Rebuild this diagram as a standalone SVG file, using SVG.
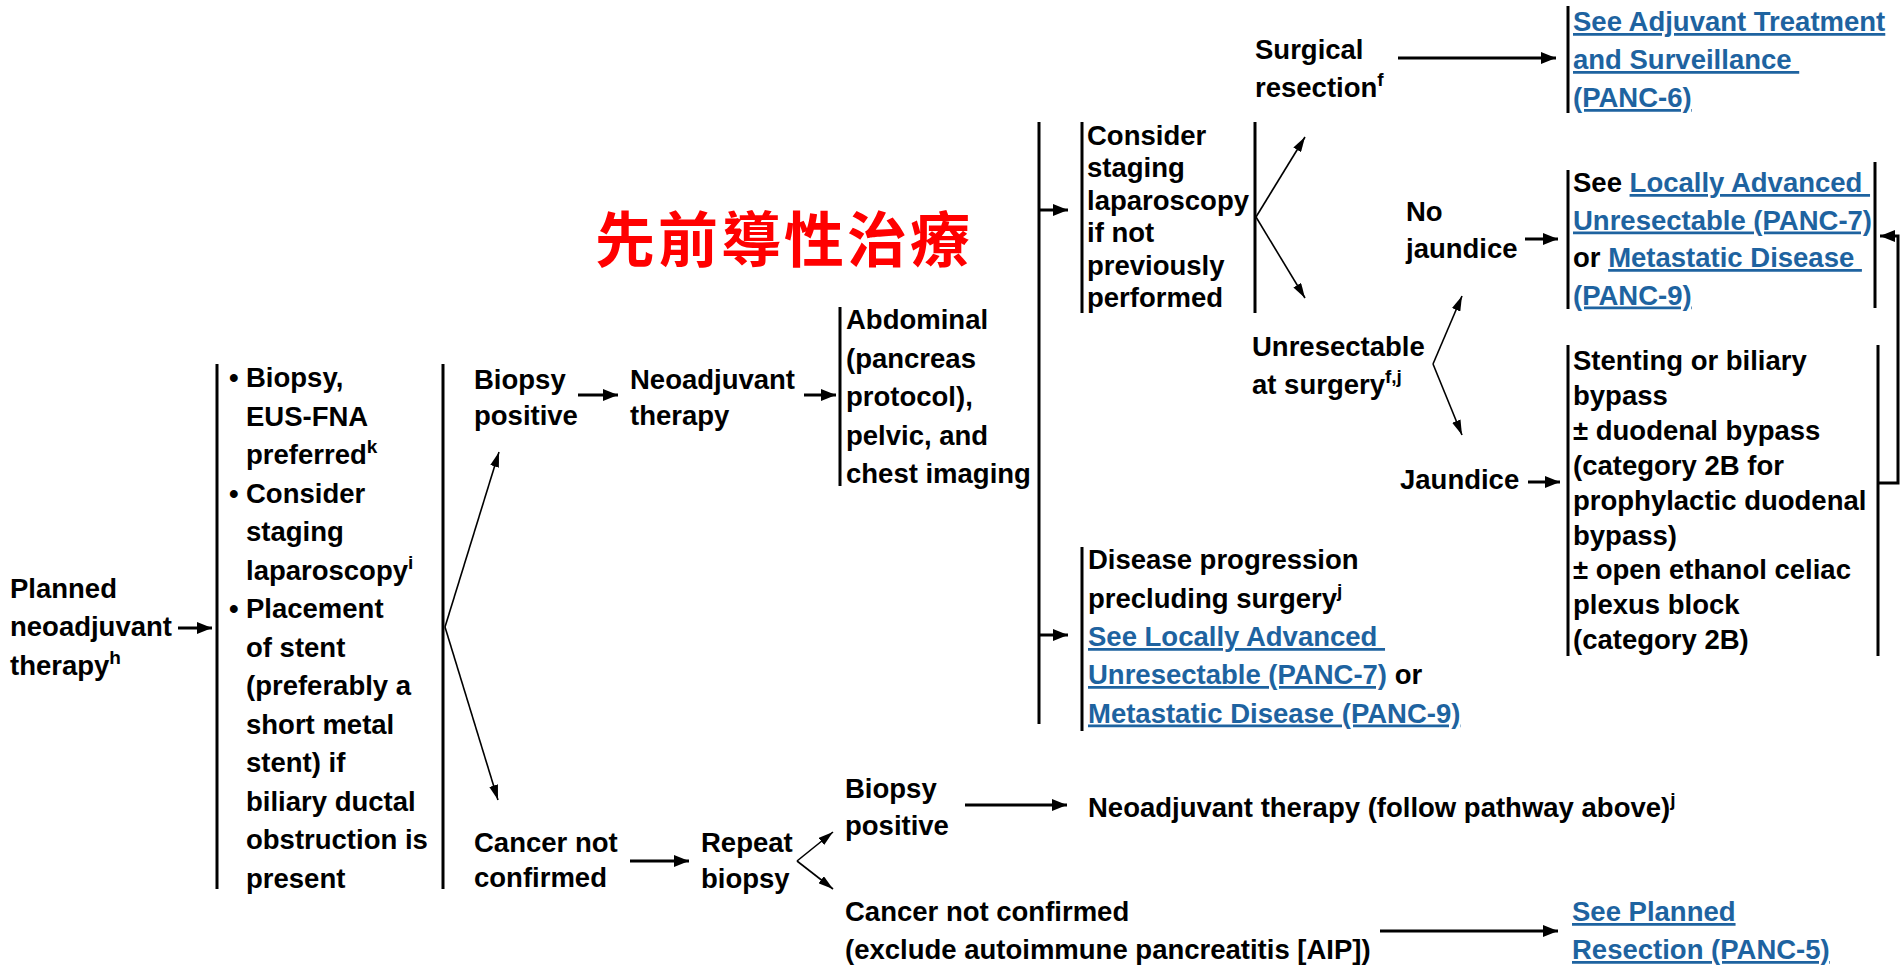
<svg xmlns="http://www.w3.org/2000/svg" width="1901" height="967" viewBox="0 0 1901 967">
  <style>
    .t { font-family: "Liberation Sans", Arial, "Noto Sans CJK TC", sans-serif; font-size: 27.5px; font-weight: bold; fill: #000; }
    .sup { font-size: 19px; }
    .lnk { fill: #1E63A0; text-decoration: underline; }
    .bar { stroke: #000; stroke-width: 3; fill: none; }
    .ln { stroke: #000; stroke-width: 3; fill: none; marker-end: url(#ah); }
    .thin { stroke: #000; stroke-width: 1.6; fill: none; marker-end: url(#ahs); }
    .title { font-family: "Noto Sans CJK TC", "Noto Sans CJK SC", sans-serif; font-size: 60px; font-weight: bold; fill: #FF0000; letter-spacing: 3px; }
  </style>
  <defs>
    <marker id="ah" markerUnits="userSpaceOnUse" markerWidth="15" markerHeight="12" refX="15" refY="6" orient="auto" viewBox="0 0 15 12">
      <path d="M0,0 L15,6 L0,12 z" fill="#000"/>
    </marker>
    <marker id="ahs" markerUnits="userSpaceOnUse" markerWidth="15" markerHeight="9" refX="15" refY="4.5" orient="auto" viewBox="0 0 15 9">
      <path d="M0,0 L15,4.5 L0,9 z" fill="#000"/>
    </marker>
  </defs>

  <rect width="1901" height="967" fill="#fff"/>

  <!-- heading -->
  <text id="heading" class="title" x="595" y="262">先前導性治療</text>

  <!-- connectors -->
  <g id="connectors">
    <line class="ln" x1="178" y1="628" x2="212" y2="628"/>
    <line class="thin" x1="445" y1="627" x2="499" y2="452"/>
    <line class="thin" x1="445" y1="627" x2="498" y2="800"/>
    <line class="ln" x1="578" y1="395" x2="618" y2="395"/>
    <line class="ln" x1="804" y1="395" x2="836" y2="395"/>
    <!-- imaging trunk -->
    <line class="bar" x1="1039" y1="122" x2="1039" y2="724"/>
    <line class="ln" x1="1039" y1="210" x2="1068" y2="210"/>
    <line class="ln" x1="1039" y1="635" x2="1068" y2="635"/>
    <!-- laparoscopy fork -->
    <line class="thin" x1="1256" y1="217" x2="1305" y2="137"/>
    <line class="thin" x1="1256" y1="217" x2="1305" y2="298"/>
    <line class="ln" x1="1398" y1="58" x2="1556" y2="58"/>
    <!-- unresectable fork -->
    <line class="thin" x1="1433" y1="364" x2="1462" y2="296"/>
    <line class="thin" x1="1433" y1="364" x2="1462" y2="435"/>
    <line class="ln" x1="1525" y1="239" x2="1558" y2="239"/>
    <line class="ln" x1="1528" y1="482" x2="1560" y2="482"/>
    <path class="ln" d="M1878,483 H1898 V236 H1880"/>
    <!-- bottom branch -->
    <line class="ln" x1="630" y1="861" x2="689" y2="861"/>
    <line class="thin" x1="797" y1="861" x2="833" y2="832"/>
    <line class="thin" x1="797" y1="861" x2="833" y2="889"/>
    <line class="ln" x1="965" y1="805" x2="1067" y2="805"/>
    <line class="ln" x1="1380" y1="931" x2="1558" y2="931"/>
  </g>

  <g id="planned">
    <text class="t" x="10" y="598">Planned</text>
    <text class="t" x="10" y="636">neoadjuvant</text>
    <text class="t" x="10" y="675">therapy<tspan class="sup" dy="-11">h</tspan></text>
  </g>

  <g id="workup">
    <line class="bar" x1="217" y1="364" x2="217" y2="889"/>
    <line class="bar" x1="443" y1="364" x2="443" y2="889"/>
    <text class="t" x="229" y="387">•</text>
    <text class="t" x="246" y="387">Biopsy,</text>
    <text class="t" x="246" y="425.5">EUS-FNA</text>
    <text class="t" x="246" y="464">preferred<tspan class="sup" dy="-11">k</tspan></text>
    <text class="t" x="229" y="502.5">•</text>
    <text class="t" x="246" y="502.5">Consider</text>
    <text class="t" x="246" y="541">staging</text>
    <text class="t" x="246" y="579.5">laparoscopy<tspan class="sup" dy="-11">i</tspan></text>
    <text class="t" x="229" y="618">•</text>
    <text class="t" x="246" y="618">Placement</text>
    <text class="t" x="246" y="656.5">of stent</text>
    <text class="t" x="246" y="695">(preferably a</text>
    <text class="t" x="246" y="733.5">short metal</text>
    <text class="t" x="246" y="772">stent) if</text>
    <text class="t" x="246" y="810.5">biliary ductal</text>
    <text class="t" x="246" y="849">obstruction is</text>
    <text class="t" x="246" y="887.5">present</text>
  </g>

  <g id="biopsy-positive">
    <text class="t" x="474" y="389">Biopsy</text>
    <text class="t" x="474" y="425">positive</text>
  </g>

  <g id="neoadjuvant">
    <text class="t" x="630" y="389">Neoadjuvant</text>
    <text class="t" x="630" y="425">therapy</text>
  </g>

  <g id="imaging">
    <line class="bar" x1="840" y1="307" x2="840" y2="486"/>
    <text class="t" x="846" y="329">Abdominal</text>
    <text class="t" x="846" y="367.6">(pancreas</text>
    <text class="t" x="846" y="406.2">protocol),</text>
    <text class="t" x="846" y="444.8">pelvic, and</text>
    <text class="t" x="846" y="483.4">chest imaging</text>
  </g>

  <g id="staging-lap">
    <line class="bar" x1="1082" y1="122" x2="1082" y2="313"/>
    <line class="bar" x1="1255" y1="122" x2="1255" y2="313"/>
    <text class="t" x="1087" y="145">Consider</text>
    <text class="t" x="1087" y="177.4">staging</text>
    <text class="t" x="1087" y="209.8">laparoscopy</text>
    <text class="t" x="1087" y="242.2">if not</text>
    <text class="t" x="1087" y="274.6">previously</text>
    <text class="t" x="1087" y="307">performed</text>
  </g>

  <g id="surgical-resection">
    <text class="t" x="1255" y="59">Surgical</text>
    <text class="t" x="1255" y="97">resection<tspan class="sup" dy="-11">f</tspan></text>
  </g>

  <g id="adjuvant-link">
    <line class="bar" x1="1568" y1="6" x2="1568" y2="113"/>
    <text class="t lnk" x="1573" y="31">See Adjuvant Treatment</text>
    <text class="t lnk" x="1573" y="69">and Surveillance&#160;</text>
    <text class="t lnk" x="1573" y="107">(PANC-6)</text>
  </g>

  <g id="unresectable">
    <text class="t" x="1252" y="356">Unresectable</text>
    <text class="t" x="1252" y="394">at surgery<tspan class="sup" dy="-11">f,j</tspan></text>
  </g>

  <g id="no-jaundice">
    <text class="t" x="1406" y="221">No</text>
    <text class="t" x="1406" y="258">jaundice</text>
  </g>

  <g id="jaundice">
    <text class="t" x="1400" y="489">Jaundice</text>
  </g>

  <g id="advanced-link">
    <line class="bar" x1="1568" y1="170" x2="1568" y2="309"/>
    <line class="bar" x1="1875" y1="162" x2="1875" y2="308"/>
    <text class="t" x="1573" y="192">See <tspan class="lnk">Locally Advanced&#160;</tspan></text>
    <text class="t lnk" x="1573" y="229.5">Unresectable (PANC-7)</text>
    <text class="t" x="1573" y="267">or <tspan class="lnk">Metastatic Disease&#160;</tspan></text>
    <text class="t lnk" x="1573" y="304.5">(PANC-9)</text>
  </g>

  <g id="palliation">
    <line class="bar" x1="1568" y1="345" x2="1568" y2="656"/>
    <line class="bar" x1="1878" y1="345" x2="1878" y2="656"/>
    <text class="t" x="1573" y="370">Stenting or biliary</text>
    <text class="t" x="1573" y="404.9">bypass</text>
    <text class="t" x="1573" y="439.8">± duodenal bypass</text>
    <text class="t" x="1573" y="474.7">(category 2B for</text>
    <text class="t" x="1573" y="509.6">prophylactic duodenal</text>
    <text class="t" x="1573" y="544.5">bypass)</text>
    <text class="t" x="1573" y="579.4">± open ethanol celiac</text>
    <text class="t" x="1573" y="614.3">plexus block</text>
    <text class="t" x="1573" y="649.2">(category 2B)</text>
  </g>

  <g id="progression">
    <line class="bar" x1="1082" y1="547" x2="1082" y2="731"/>
    <text class="t" x="1088" y="569">Disease progression</text>
    <text class="t" x="1088" y="607.5">precluding surgery<tspan class="sup" dy="-11">j</tspan></text>
    <text class="t lnk" x="1088" y="646">See Locally Advanced&#160;</text>
    <text class="t" x="1088" y="684"><tspan class="lnk">Unresectable (PANC-7)</tspan> or</text>
    <text class="t lnk" x="1088" y="722.5">Metastatic Disease (PANC-9)</text>
  </g>

  <g id="cancer-not-confirmed">
    <text class="t" x="474" y="852">Cancer not</text>
    <text class="t" x="474" y="887">confirmed</text>
  </g>

  <g id="repeat-biopsy">
    <text class="t" x="701" y="852">Repeat</text>
    <text class="t" x="701" y="888">biopsy</text>
  </g>

  <g id="repeat-positive">
    <text class="t" x="845" y="798">Biopsy</text>
    <text class="t" x="845" y="835">positive</text>
  </g>

  <g id="follow-pathway">
    <text class="t" x="1088" y="817">Neoadjuvant therapy (follow pathway above)<tspan class="sup" dy="-11">j</tspan></text>
  </g>

  <g id="repeat-negative">
    <text class="t" x="845" y="921">Cancer not confirmed</text>
    <text class="t" x="845" y="959">(exclude autoimmune pancreatitis [AIP])</text>
  </g>

  <g id="planned-resection-link">
    <text class="t lnk" x="1572" y="921">See Planned</text>
    <text class="t lnk" x="1572" y="959">Resection (PANC-5)</text>
  </g>
</svg>
